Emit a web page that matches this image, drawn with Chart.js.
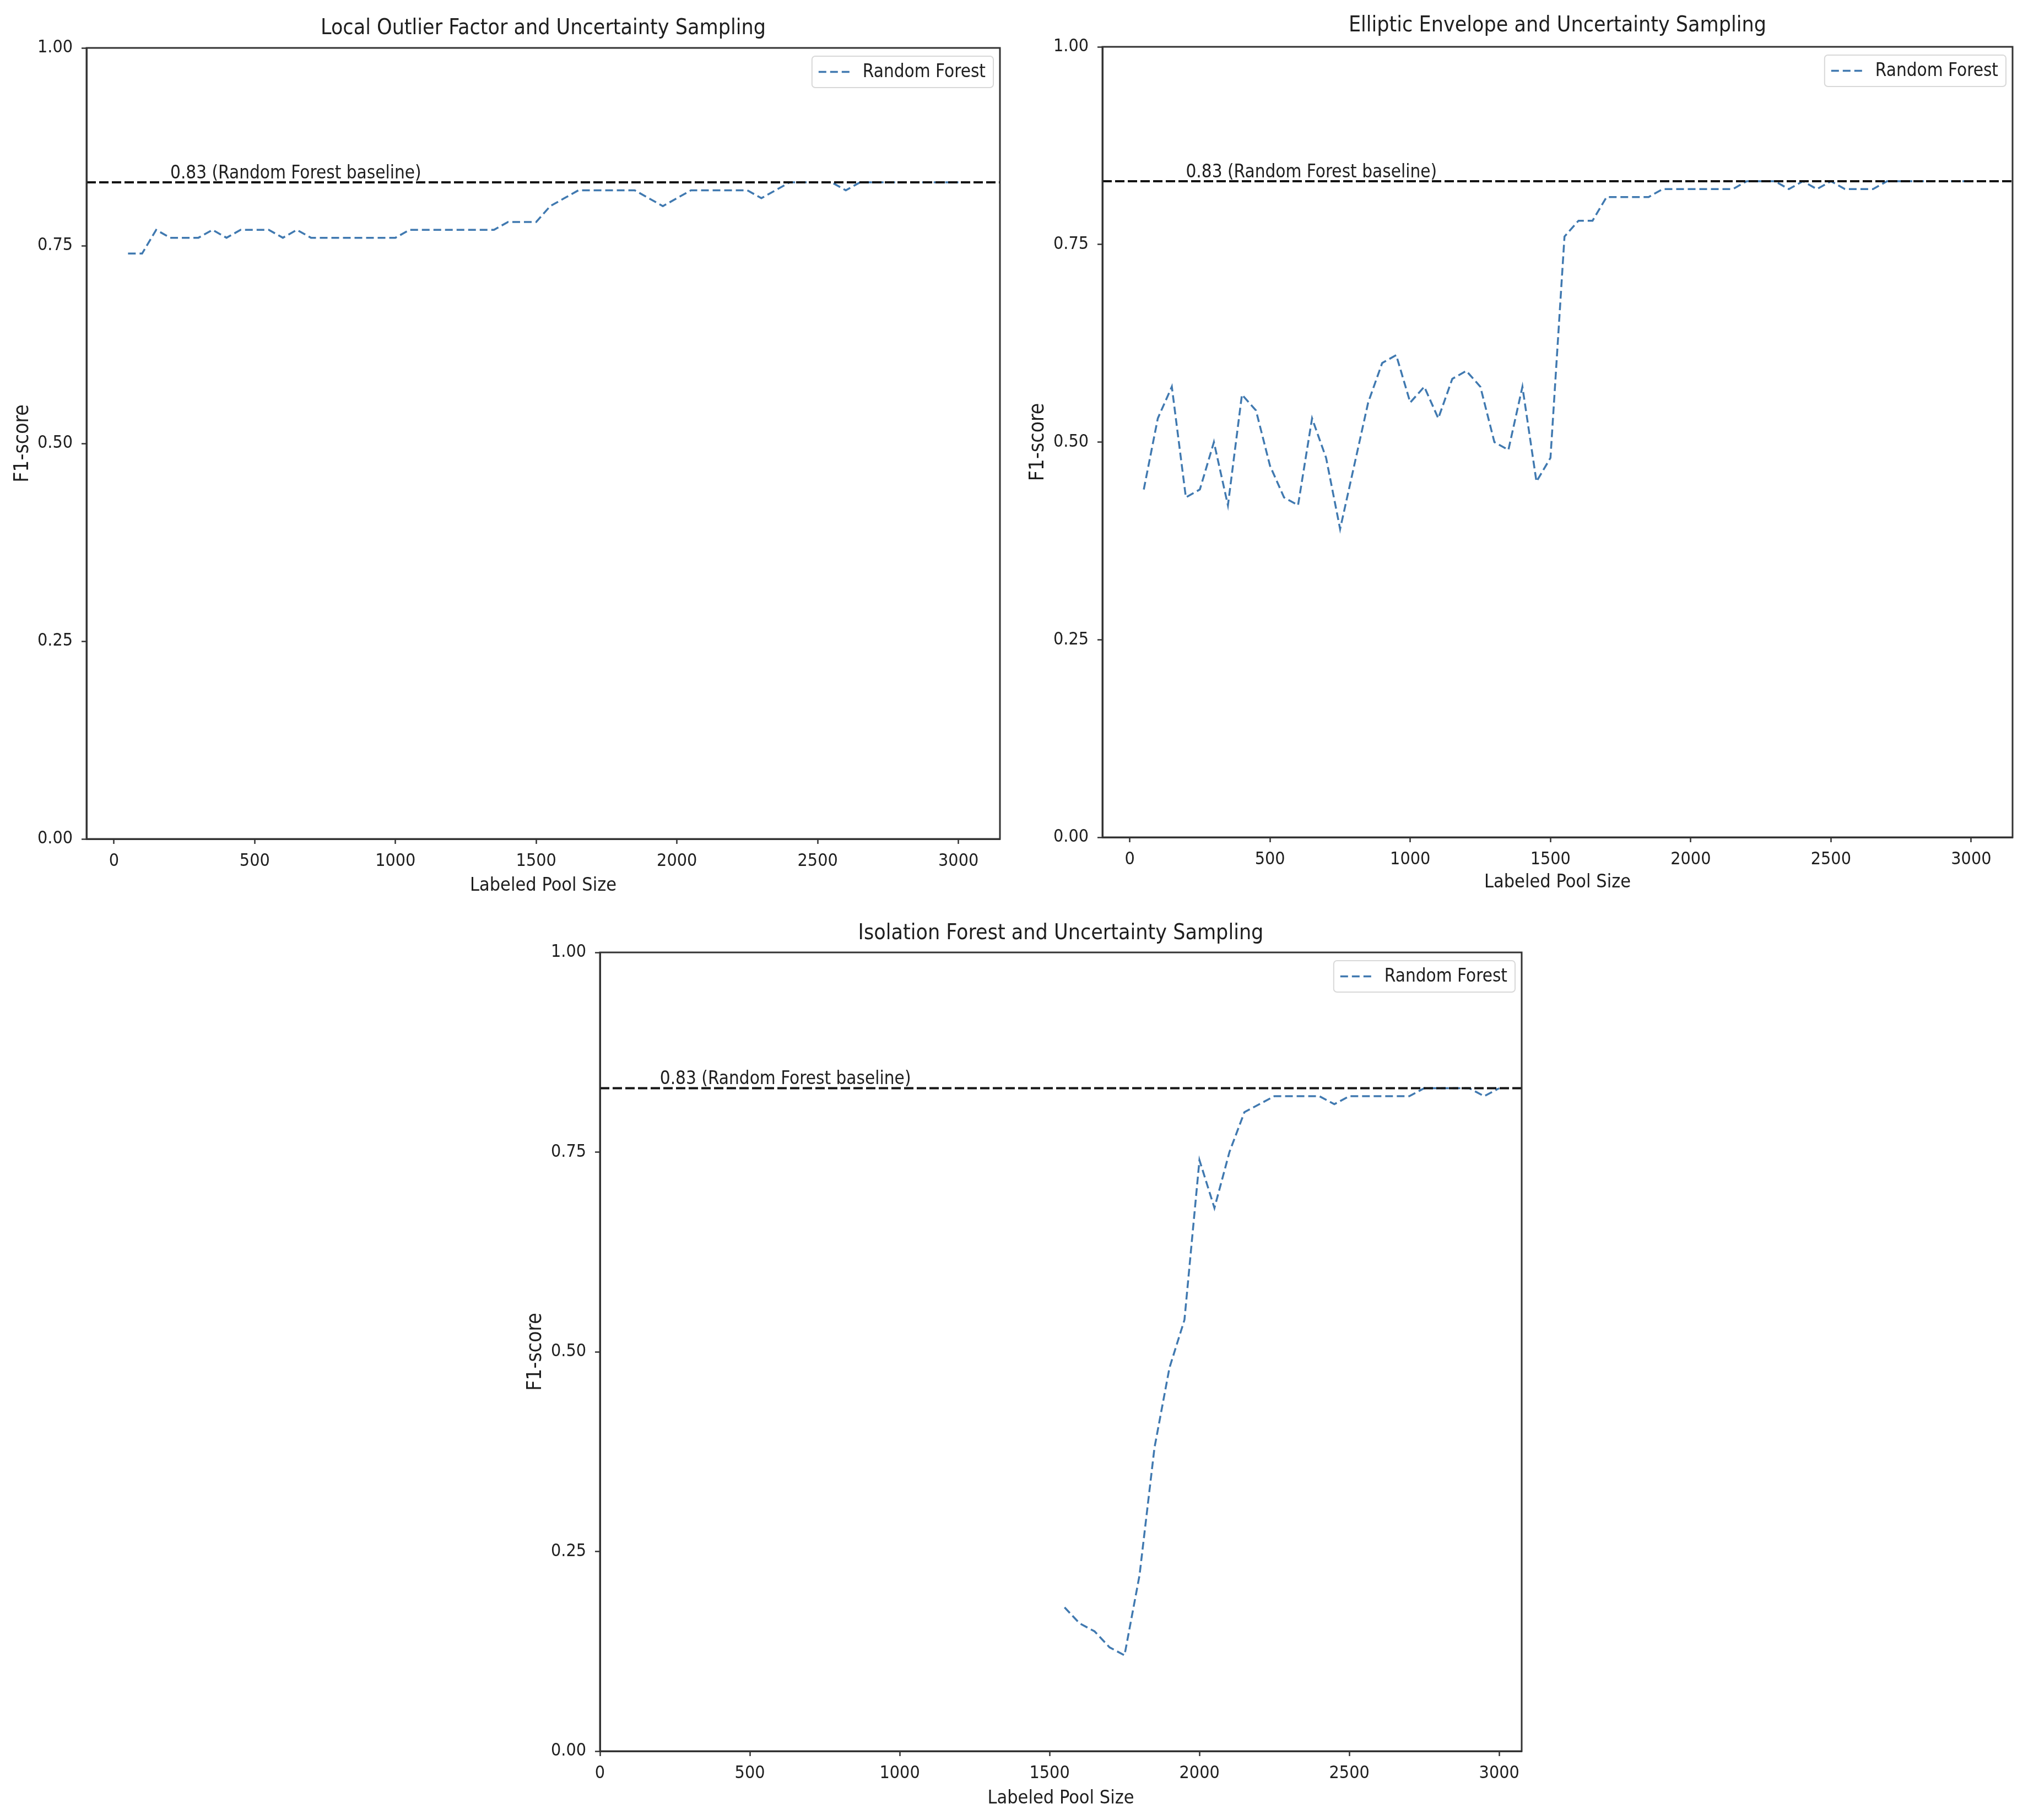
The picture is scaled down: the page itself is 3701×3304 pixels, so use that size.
<!DOCTYPE html>
<html>
<head>
<meta charset="utf-8">
<script src="https://cdn.jsdelivr.net/npm/chart.js@4.4.1/dist/chart.umd.min.js"></script>
<style>
  html, body { margin:0; padding:0; background:#fff; }
  body { width:3701px; height:3304px; position:relative; overflow:hidden; }
  canvas { position:absolute; }
</style>
</head>
<body>
<canvas id="chartLof"></canvas>
<canvas id="chartEnv"></canvas>
<canvas id="chartIso"></canvas>
<script>
// labeled pool sizes (x) for the two top panels
const poolSizes = [50,100,150,200,250,300,350,400,450,500,
  550,600,650,700,750,800,850,900,950,1000,
  1050,1100,1150,1200,1250,1300,1350,1400,1450,1500,
  1550,1600,1650,1700,1750,1800,1850,1900,1950,2000,
  2050,2100,2150,2200,2250,2300,2350,2400,2450,2500,
  2550,2600,2650,2700,2750,2800,2850,2900,2950,3000];

const lofF1 = [0.74,0.74,0.77,0.76,0.76,0.76,0.77,0.76,0.77,0.77,
  0.77,0.76,0.77,0.76,0.76,0.76,0.76,0.76,0.76,0.76,
  0.77,0.77,0.77,0.77,0.77,0.77,0.77,0.78,0.78,0.78,
  0.80,0.81,0.82,0.82,0.82,0.82,0.82,0.81,0.80,0.81,
  0.82,0.82,0.82,0.82,0.82,0.81,0.82,0.83,0.83,0.83,
  0.83,0.82,0.83,0.83,0.83,0.83,0.83,0.83,0.83,0.83];

const envF1 = [0.44,0.53,0.57,0.43,0.44,0.50,0.42,0.56,0.54,0.47,
  0.43,0.42,0.53,0.48,0.39,0.47,0.55,0.60,0.61,0.55,
  0.57,0.53,0.58,0.59,0.57,0.50,0.49,0.57,0.45,0.48,
  0.76,0.78,0.78,0.81,0.81,0.81,0.81,0.82,0.82,0.82,
  0.82,0.82,0.82,0.83,0.83,0.83,0.82,0.83,0.82,0.83,
  0.82,0.82,0.82,0.83,0.83,0.83,0.83,0.83,0.83,0.83];

// isolation forest only has points from 1550 on
const isoPoolSizes = [1550,1600,1650,1700,1750,1800,1850,1900,1950,2000,
  2050,2100,2150,2200,2250,2300,2350,2400,2450,2500,
  2550,2600,2650,2700,2750,2800,2850,2900,2950,3000];
const isoF1 = [0.18,0.16,0.15,0.13,0.12,0.22,0.38,0.48,0.54,0.74,
  0.68,0.75,0.80,0.81,0.82,0.82,0.82,0.82,0.81,0.82,
  0.82,0.82,0.82,0.82,0.83,0.83,0.83,0.83,0.82,0.83];

const xTickValues = [0,500,1000,1500,2000,2500,3000];
const yTickValues = [0,0.25,0.5,0.75,1];
const baselineValue = 0.83;
const baselineNote = "0.83 (Random Forest baseline)";
const baselineNoteAt = [200, 0.835];

const FONT = "'DejaVu Sans Condensed', 'DejaVu Sans', sans-serif";
const BLUE = "#4079b0";
const INK = "#1e1e1e";
const SPINE = "#333";
const TITLE_SIZE = 39, LABEL_SIZE = 34, TICK_SIZE = 32, NOTE_SIZE = 33;

// draws the top and right spines
const framePlugin = {
  id: "frame",
  afterDraw(chart){
    const {ctx, chartArea:a} = chart;
    ctx.save();
    ctx.strokeStyle = SPINE; ctx.lineWidth = 3;
    ctx.strokeRect(a.left, a.top, a.right - a.left, a.bottom - a.top);
    ctx.restore();
  }
};

const notePlugin = {
  id: "note",
  afterDatasetsDraw(chart){
    const {ctx, scales} = chart;
    ctx.save();
    ctx.font = NOTE_SIZE + "px " + FONT;
    ctx.fillStyle = INK;
    ctx.textBaseline = "alphabetic";
    ctx.fillText(baselineNote, scales.x.getPixelForValue(baselineNoteAt[0]), scales.y.getPixelForValue(baselineNoteAt[1]));
    ctx.restore();
  }
};

const legendPlugin = {
  id: "insetLegend",
  afterDraw(chart){
    const {ctx, chartArea:a} = chart;
    const ds = chart.data.datasets[1];
    ctx.save();
    ctx.font = NOTE_SIZE + "px " + FONT;
    const w = 92 + ctx.measureText(ds.label).width + 14, h = 57;
    const x = a.right - 12 - w, y = a.top + 15;
    ctx.beginPath();
    ctx.roundRect(x, y, w, h, 6);
    ctx.fillStyle = "rgba(255,255,255,0.85)"; ctx.fill();
    ctx.strokeStyle = "#d8d8d8"; ctx.lineWidth = 2; ctx.stroke();
    ctx.beginPath();
    ctx.setLineDash(ds.borderDash);
    ctx.strokeStyle = ds.borderColor; ctx.lineWidth = ds.borderWidth;
    ctx.moveTo(x + 12, y + h/2); ctx.lineTo(x + 72, y + h/2); ctx.stroke();
    ctx.setLineDash([]);
    ctx.fillStyle = INK; ctx.textBaseline = "middle";
    ctx.fillText(ds.label, x + 92, y + h/2 + 1);
    ctx.restore();
  }
};

function makeChart(id, g, title, xs, ys, xMin, xMax){
  const cv = document.getElementById(id);
  cv.width = g.w; cv.height = g.h;
  cv.style.left = g.x + "px"; cv.style.top = g.y + "px";
  const aL = g.area[0] - g.x, aT = g.area[1] - g.y, aR = g.area[2] - g.x, aB = g.area[3] - g.y;
  const titleLH = TITLE_SIZE * 1.2, labLH = LABEL_SIZE * 1.2;
  const tickFont = {family: FONT, size: TICK_SIZE};
  return new Chart(cv, {
    type: "line",
    data: { datasets: [
      {label: "baseline", data: [{x: xMin, y: baselineValue}, {x: xMax, y: baselineValue}],
       borderColor: "#141414", borderWidth: 4, borderDash: [17, 6], pointRadius: 0},
      {label: "Random Forest", data: xs.map((x, i) => ({x, y: ys[i]})),
       borderColor: BLUE, borderWidth: 3.5, borderDash: [14, 7], pointRadius: 0, tension: 0}
    ]},
    options: {
      responsive: false, animation: false, devicePixelRatio: 1,
      layout: {padding: {left: 0, top: 0, right: g.w - aR, bottom: 0}},
      plugins: {
        legend: {display: false}, tooltip: {enabled: false},
        title: {display: true, text: title, color: INK, fullSize: false,
          font: {family: FONT, size: TITLE_SIZE, weight: "normal", lineHeight: 1.2},
          padding: {top: g.titleY - g.y - titleLH/2, bottom: aT - (g.titleY - g.y) - titleLH/2}}
      },
      scales: {
        x: {type: "linear", min: xMin, max: xMax,
          afterBuildTicks: s => { s.ticks = xTickValues.map(v => ({value: v})); },
          afterFit: s => { s.height = g.h - aB; },
          ticks: {color: INK, font: tickFont, padding: 12, maxRotation: 0, callback: v => String(v)},
          grid: {drawOnChartArea: false, drawTicks: true, tickLength: 9, tickWidth: 2.5, tickColor: SPINE},
          border: {display: true, color: SPINE, width: 3},
          title: {display: true, text: "Labeled Pool Size", color: INK, font: {family: FONT, size: LABEL_SIZE, lineHeight: 1.2},
            padding: {top: 0, bottom: g.y + g.h - g.xTitleY - labLH/2}}
        },
        y: {type: "linear", min: 0, max: 1,
          afterBuildTicks: s => { s.ticks = yTickValues.map(v => ({value: v})); },
          afterFit: s => { s.width = aL; },
          ticks: {color: INK, font: tickFont, padding: 16, callback: v => Number(v).toFixed(2)},
          grid: {drawOnChartArea: false, drawTicks: true, tickLength: 9, tickWidth: 2.5, tickColor: SPINE},
          border: {display: true, color: SPINE, width: 3},
          title: {display: true, text: "F1-score", color: INK, font: {family: FONT, size: LABEL_SIZE + 3, lineHeight: 1.2},
            padding: {top: g.yTitleX - g.x - (LABEL_SIZE + 3) * 0.6, bottom: 0}}
        }
      }
    },
    plugins: [framePlugin, notePlugin, legendPlugin]
  });
}

makeChart("chartLof",
  {x: 0, y: 0, w: 1850, h: 1650, area: [157, 87, 1815, 1523], titleY: 52, yTitleX: 41, xTitleY: 1608},
  "Local Outlier Factor and Uncertainty Sampling", poolSizes, lofF1, -97.5, 3147.5);
makeChart("chartEnv",
  {x: 1850, y: 0, w: 1851, h: 1650, area: [2001, 85, 3653, 1520], titleY: 47, yTitleX: 1884, xTitleY: 1602},
  "Elliptic Envelope and Uncertainty Sampling", poolSizes, envF1, -97.5, 3147.5);
makeChart("chartIso",
  {x: 900, y: 1650, w: 2000, h: 1654, area: [1089, 1729, 2762, 3179], titleY: 1695, yTitleX: 972, xTitleY: 3265},
  "Isolation Forest and Uncertainty Sampling", isoPoolSizes, isoF1, 0, 3075);
</script>
</body>
</html>
